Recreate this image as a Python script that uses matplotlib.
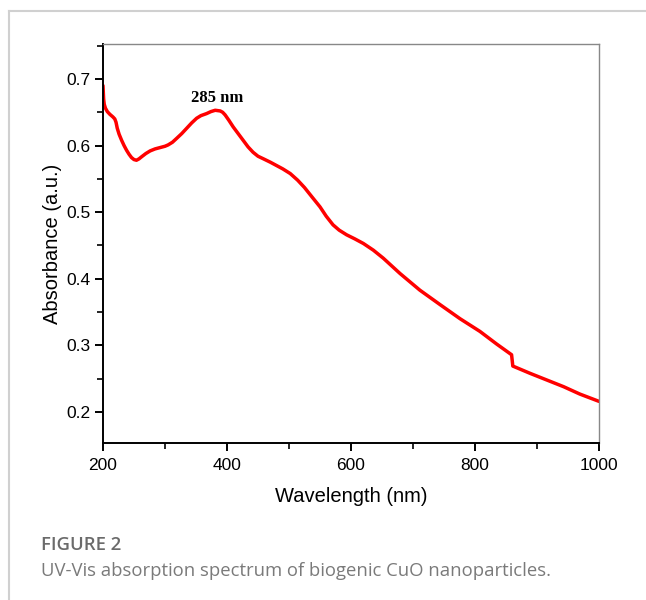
import numpy as np
import matplotlib.pyplot as plt
from matplotlib.lines import Line2D
from matplotlib.ticker import MultipleLocator

plt.rcParams['font.family'] = ['Liberation Sans', 'DejaVu Sans']

# UV-Vis spectrum
wavelength = [200, 200.5, 201, 202, 204, 207, 211, 216, 219, 221, 223, 226,
              230, 234, 238, 242, 246, 250, 254, 258, 262, 269, 276, 284, 292,
              300, 305, 312, 319, 327, 335, 343, 351, 358, 367, 374, 381, 389,
              393, 397, 403, 410, 418, 426, 434, 442, 450, 459, 470, 480, 490,
              502, 514, 525, 537, 550, 560, 571, 581, 593, 606, 620, 636, 652,
              679, 711, 744, 776, 808, 835, 859, 861, 889, 916, 943, 969, 1000]
absorbance = [0.690, 0.680, 0.670, 0.662, 0.656, 0.651, 0.647, 0.643, 0.640,
              0.635, 0.626, 0.617, 0.608, 0.600, 0.593, 0.587, 0.582, 0.579,
              0.578, 0.580, 0.583, 0.588, 0.592, 0.595, 0.597, 0.599, 0.601,
              0.605, 0.611, 0.618, 0.626, 0.634, 0.641, 0.645, 0.648, 0.651,
              0.653, 0.652, 0.650, 0.646, 0.638, 0.628, 0.618, 0.608, 0.598,
              0.590, 0.584, 0.580, 0.575, 0.570, 0.565, 0.558, 0.548, 0.537,
              0.523, 0.508, 0.494, 0.481, 0.473, 0.466, 0.460, 0.453, 0.443,
              0.431, 0.408, 0.383, 0.361, 0.340, 0.321, 0.302, 0.286, 0.269,
              0.258, 0.248, 0.238, 0.227, 0.216]

peak_label = '285 nm'
peak_pos = (384, 0.672)

fig = plt.figure(figsize=(6.46, 6.0), dpi=100)
ax = fig.add_axes([103/646, 1-443/600, 496/646, 399/600])

ax.plot(wavelength, absorbance, color='#ff0000', lw=2.5,
        solid_capstyle='round', solid_joinstyle='round')
ax.set_xlim(200, 1000)
ax.set_ylim(0.1535, 0.7525)

ax.xaxis.set_major_locator(MultipleLocator(200))
ax.xaxis.set_minor_locator(MultipleLocator(100))
ax.yaxis.set_major_locator(MultipleLocator(0.1))
ax.yaxis.set_minor_locator(MultipleLocator(0.05))
ax.set_yticks([0.2, 0.3, 0.4, 0.5, 0.6, 0.7])

for s in ['left', 'bottom']:
    ax.spines[s].set_color('black')
    ax.spines[s].set_linewidth(1.4)
for s in ['top', 'right']:
    ax.spines[s].set_color('#888888')
    ax.spines[s].set_linewidth(1.0)

ax.tick_params(which='major', direction='out', length=6, width=1.4,
               labelsize=12.5, pad=3, colors='black')
ax.tick_params(axis='x', which='major', pad=5)
ax.tick_params(which='minor', direction='out', length=4, width=1.2)

ax.set_xlabel('Wavelength (nm)', fontsize=14.5, labelpad=10)
ax.set_ylabel('Absorbance (a.u.)', fontsize=14.5, labelpad=3)

ax.text(peak_pos[0], peak_pos[1], peak_label, fontsize=12, fontweight='bold',
        family='Liberation Serif', ha='center', va='center')

# page frame lines
fig.add_artist(Line2D([9/646, 1], [1-11/600, 1-11/600], color='#d0d0d0', lw=1.5))
fig.add_artist(Line2D([9/646, 9/646], [0, 1-11/600], color='#d0d0d0', lw=1.5))

fig.text(41/646, 1-545/600, 'FIGURE 2', fontsize=13.3, color='#6b6b6b',
         family='Open Sans', fontweight='semibold', va='center')
fig.text(41/646, 1-571/600, 'UV-Vis absorption spectrum of biogenic CuO nanoparticles.',
         fontsize=13.3, color='#7a7a7a', family='Open Sans', va='center')

fig.savefig('out.png', dpi=100)
